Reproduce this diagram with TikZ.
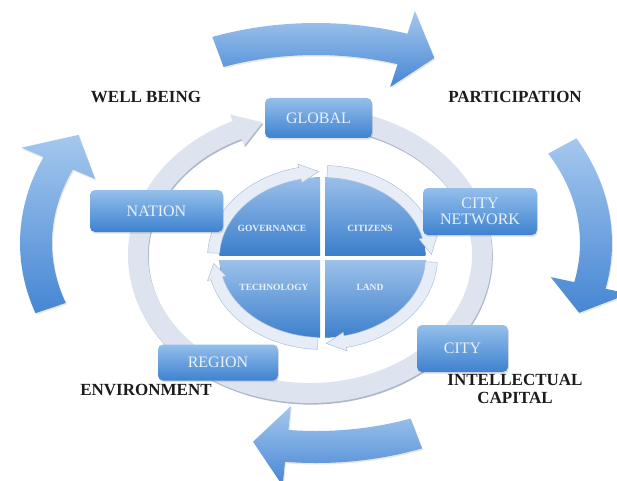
\documentclass[tikz,border=0pt]{standalone}
\usepackage{fontspec}
\setmainfont{Liberation Serif}
\usetikzlibrary{shadows}

\definecolor{arrowlight}{HTML}{A5C8EE}
\definecolor{arrowdark}{HTML}{4686D4}
\definecolor{boxlight}{HTML}{94BFEB}
\definecolor{boxdark}{HTML}{3E82D0}
\definecolor{ringbody}{HTML}{DDE3EF}
\definecolor{ringshade}{HTML}{A7B1C4}
\definecolor{arcbody}{HTML}{E6EDF7}
\definecolor{arcshade}{HTML}{AFC0DA}
\definecolor{qlight}{HTML}{9CC1EA}
\definecolor{qdark}{HTML}{3B7ECC}
\definecolor{boxtext}{HTML}{E9F1FA}
\definecolor{labeltext}{HTML}{1C1C1C}

% centre \bcX,\bcY and radii \brX,\brY set before the call
% #1 start angle, #2 neck angle, #3 tip angle, #4 half band, #5 half head, #6 style
\newcommand{\bandarrow}[6]{%
  \pgfmathsetmacro{\bRxo}{\brX+#4}\pgfmathsetmacro{\bRyo}{\brY+#4}%
  \pgfmathsetmacro{\bRxi}{\brX-#4}\pgfmathsetmacro{\bRyi}{\brY-#4}%
  \pgfmathsetmacro{\bSx}{\bcX+\bRxo*cos(#1)}\pgfmathsetmacro{\bSy}{\bcY+\bRyo*sin(#1)}%
  \pgfmathsetmacro{\bOx}{\bcX+(\brX+#5)*cos(#2)}\pgfmathsetmacro{\bOy}{\bcY+(\brY+#5)*sin(#2)}%
  \pgfmathsetmacro{\bTx}{\bcX+\brX*cos(#3)}\pgfmathsetmacro{\bTy}{\bcY+\brY*sin(#3)}%
  \pgfmathsetmacro{\bIx}{\bcX+(\brX-#5)*cos(#2)}\pgfmathsetmacro{\bIy}{\bcY+(\brY-#5)*sin(#2)}%
  \pgfmathsetmacro{\bNx}{\bcX+\bRxi*cos(#2)}\pgfmathsetmacro{\bNy}{\bcY+\bRyi*sin(#2)}%
  \path[#6] (\bSx,\bSy)
    arc[start angle=#1, end angle=#2, x radius=\bRxo, y radius=\bRyo]
    -- (\bOx,\bOy) -- (\bTx,\bTy) -- (\bIx,\bIy) -- (\bNx,\bNy)
    arc[start angle=#2, end angle=#1, x radius=\bRxi, y radius=\bRyi]
    -- cycle;}

\tikzset{
  bigarrow/.style={top color=arrowlight, bottom color=arrowdark,
    drop shadow={shadow xshift=1pt, shadow yshift=-1.5pt, opacity=0.18}},
  ringband/.style={fill=ringbody,
    drop shadow={shadow xshift=0.8pt, shadow yshift=-1.6pt, fill=ringshade, opacity=0.9}},
  arcband/.style={fill=arcbody, draw=arcshade, line width=0.5pt},
  box/.style={rounded corners=5pt, top color=boxlight, bottom color=boxdark,
    text=boxtext, inner sep=0pt, align=center,
    font=\fontsize{16}{16}\selectfont,
    drop shadow={shadow xshift=0.8pt, shadow yshift=-1.6pt, opacity=0.25}},
  lab/.style={text=labeltext, align=center, inner sep=0pt,
    font=\bfseries\fontsize{17}{18}\selectfont},
  qlab/.style={text=boxtext, inner sep=0pt,
    font=\bfseries\fontsize{9.5}{11}\selectfont},
}

\begin{document}
\begin{tikzpicture}[x=1pt,y=1pt]
\useasboundingbox (0,0) rectangle (617,480);
\fill[white] (0,0) rectangle (617,480);

% big outer arrows
\def\bcX{316}\def\bcY{237}\def\brX{280}\def\brY{204}
\bandarrow{110.5}{72}{65}{16}{40}{bigarrow}
\bandarrow{28.4}{-12}{-20}{16}{40}{bigarrow}
\bandarrow{-69}{-96}{-103}{16}{40}{bigarrow}
\bandarrow{198.6}{157}{148}{16}{40}{bigarrow}

% middle ring with arrow into GLOBAL
\def\bcX{310}\def\bcY{225}\def\brX{172}\def\brY{138}
\bandarrow{80}{-245}{-254}{10}{17}{ringband}

% inner disc
\coordinate (D) at (322.5,222.5);
\begin{scope}
  \clip (D) ellipse[x radius=103, y radius=80];
  \fill[top color=qlight, bottom color=qdark] (320,225) rectangle (217,305);
  \fill[top color=qlight, bottom color=qdark] (325,225) rectangle (428,305);
  \fill[top color=qlight, bottom color=qdark] (320,220) rectangle (217,140);
  \fill[top color=qlight, bottom color=qdark] (325,220) rectangle (428,140);
\end{scope}
\def\bcX{322.5}\def\bcY{222.5}\def\brX{109}\def\brY{86}
\bandarrow{177}{102}{92}{6}{9.5}{arcband}
\bandarrow{87.5}{14}{2}{6}{9.5}{arcband}
\bandarrow{-3}{-78}{-88}{6}{9.5}{arcband}
\bandarrow{-92.5}{-166}{-176}{6}{9.5}{arcband}

\node[qlab] (gov)  at (272,252) {GOVERNANCE};
\node[qlab] (cit)  at (370,252) {CITIZENS};
\node[qlab] (tech) at (274,193) {TECHNOLOGY};
\node[qlab] (land) at (370,193) {LAND};

% boxes
\node[box, minimum width=107pt, minimum height=40pt] (global) at (318.5,362) {GLOBAL};
\node[box, minimum width=133pt, minimum height=42pt] (nation) at (156.5,269) {NATION};
\node[box, minimum width=114pt, minimum height=47pt] (citynet) at (480,268.5) {CITY\\NETWORK};
\node[box, minimum width=91pt, minimum height=47pt] (city) at (462.5,131.5) {CITY};
\node[box, minimum width=120pt, minimum height=36pt] (region) at (218,117.5) {REGION};

% outer labels
\node[lab] (wellbeing) at (146,383) {WELL BEING};
\node[lab] (participation) at (515,383) {PARTICIPATION};
\node[lab] (environment) at (146,90) {ENVIRONMENT};
\node[lab] (intellectual) at (515,91) {INTELLECTUAL\\CAPITAL};
\end{tikzpicture}
\end{document}
